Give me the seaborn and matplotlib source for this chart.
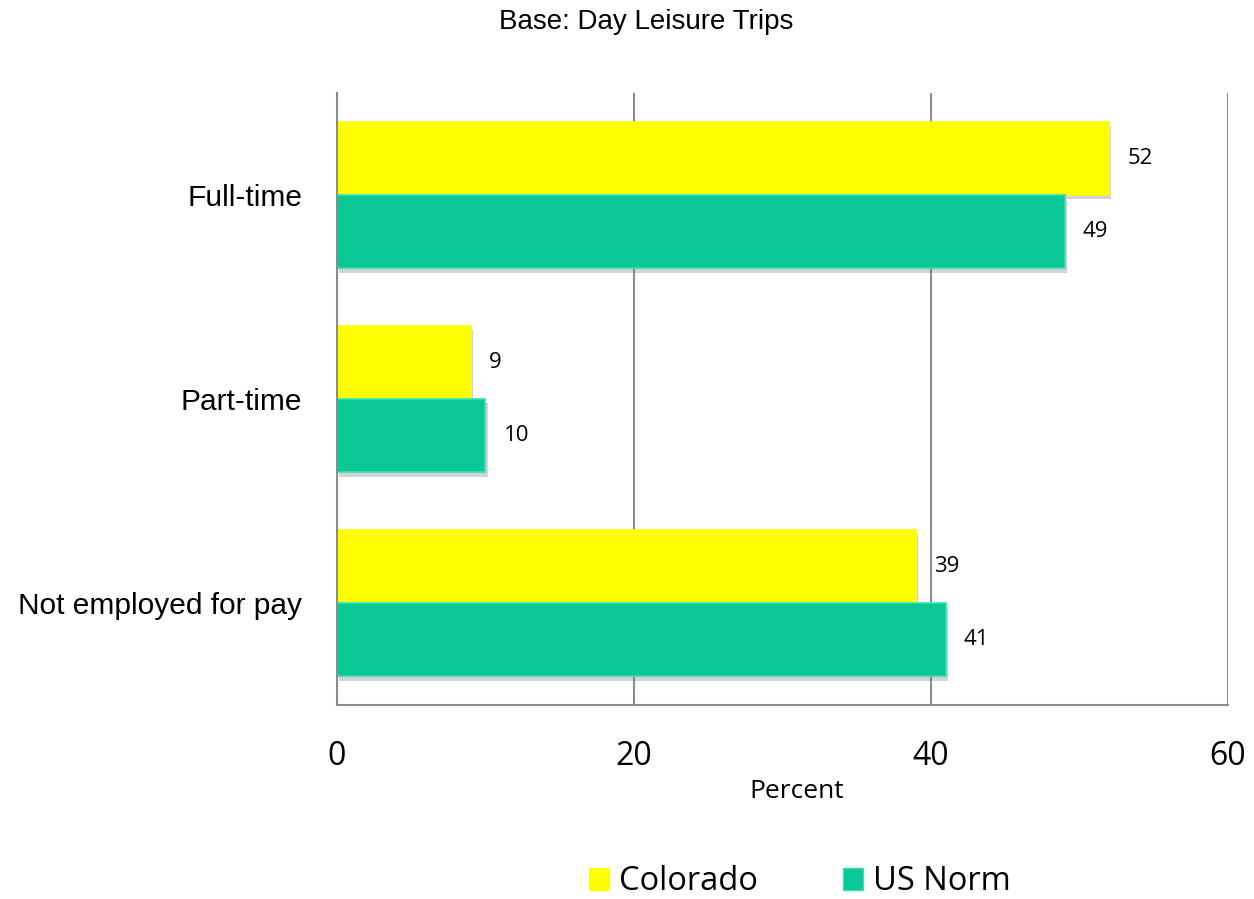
import numpy as np
import pandas as pd
import matplotlib
matplotlib.use("Agg")
import matplotlib.pyplot as plt
import matplotlib.patheffects as pe
from matplotlib.patches import Patch
import seaborn as sns

categories = ["Full-time", "Part-time", "Not employed for pay"]
series_names = ["Colorado", "US Norm"]
colorado = [52, 9, 39]
us_norm = [49, 10, 41]
x_ticks = [0, 20, 40, 60]

colors = {"Colorado": "#FFFF00", "US Norm": "#0AC896"}
edges = {"Colorado": "#FFFF00", "US Norm": "#2EE3B3"}

df = pd.DataFrame({
    "category": categories * 2,
    "series": [series_names[0]] * 3 + [series_names[1]] * 3,
    "percent": colorado + us_norm,
})

sns.set_style("white")
plt.rcParams["font.family"] = ["Liberation Sans", "DejaVu Sans"]
plt.rcParams["text.color"] = "black"
plt.rcParams["xtick.color"] = "black"
plt.rcParams["ytick.color"] = "black"

fig = plt.figure(figsize=(12.54, 8.99), dpi=100)
ax = fig.add_axes([0.2687, 0.2158, 0.7106, 0.6808])

sns.barplot(data=df, y="category", x="percent", hue="series", orient="h",
            palette=colors, width=0.72, ax=ax, legend=False, saturation=1)

shadow = [pe.SimplePatchShadow(offset=(1.5, -3), shadow_rgbFace="#808080", alpha=0.35), pe.Normal()]
for cont, name in zip(ax.containers, series_names):
    for bar in cont:
        bar.set_edgecolor(edges[name])
        bar.set_linewidth(1.2)
        bar.set_path_effects(shadow)
    ax.bar_label(cont, padding=13, fontsize=16, family="Open Sans", color="black")

ax.set_xlim(0, 60)
ax.set_xticks(x_ticks)
ax.set_xticklabels([str(t) for t in x_ticks], fontsize=23, family="Open Sans")
ax.tick_params(axis="x", length=0, pad=25)
ax.tick_params(axis="y", length=0, pad=25)
for lab in ax.get_yticklabels():
    lab.set_fontsize(21.5)

ax.xaxis.grid(True, color="#8C8C8C", lw=1.5)
ax.yaxis.grid(False)
ax.set_axisbelow(True)
for s in ["top", "right"]:
    ax.spines[s].set_visible(False)
for s in ["left", "bottom"]:
    ax.spines[s].set_color("#8C8C8C")
    ax.spines[s].set_linewidth(1.5)
ax.set_xlabel("")
ax.set_ylabel("")

fig.text(646 / 1254, 1 - 22 / 899, "Base: Day Leisure Trips", ha="center", va="center", fontsize=20)
fig.text(797 / 1254, 1 - 792 / 899, "Percent", ha="center", va="center", fontsize=19, family="Open Sans")

handles = [Patch(facecolor=colors[n], edgecolor=edges[n], label=n) for n in series_names]
fig.legend(handles=handles, loc="center", bbox_to_anchor=(800 / 1254, 1 - 882 / 899), ncol=2,
           frameon=False, prop={"family": "Open Sans", "size": 23.5}, handlelength=0.62,
           handleheight=0.62, handletextpad=0.3, columnspacing=2.6)

fig.savefig("out.png", dpi=100)
